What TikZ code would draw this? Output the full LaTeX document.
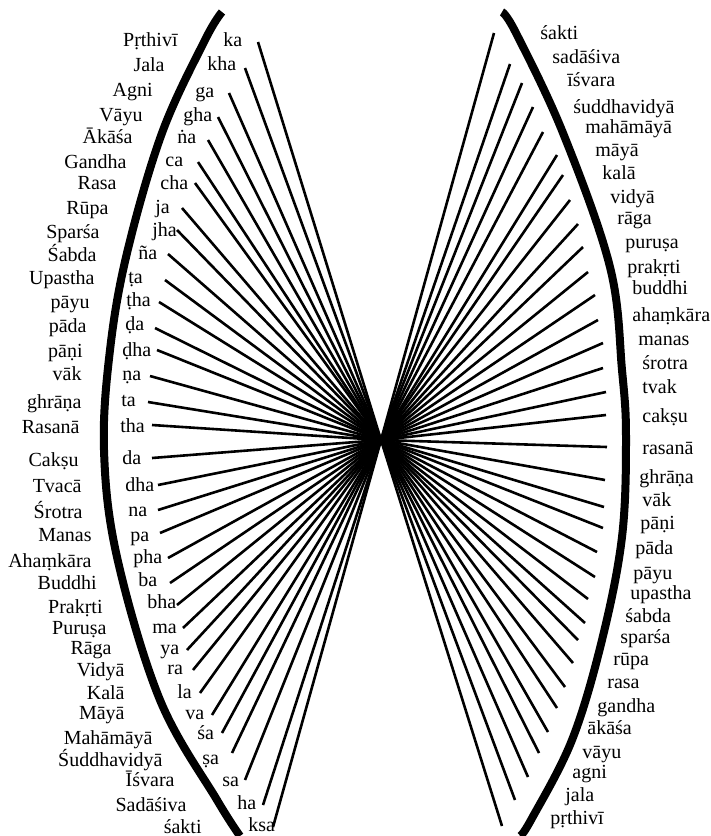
\documentclass[tikz,border=0pt]{standalone}
\usepackage{fontspec}
\setmainfont{Liberation Serif}
\usepackage{tikz}
\usetikzlibrary{calc}

\begin{document}
\begin{tikzpicture}[x=0.5pt, y=-0.5pt,
    tattva/.style={font=\fontsize{10}{12}\selectfont, inner sep=0pt},
    varna/.style={font=\fontsize{10}{12}\selectfont, inner sep=0pt, anchor=base west},
    ray/.style={line width=1.3pt},
    bow/.style={line width=4pt}]
  \useasboundingbox (0,0) rectangle (711,836);
  \coordinate (c) at (381,440);

  % the two bows
  \draw[bow] plot[smooth, tension=0.6] coordinates {(222,12) (205,40) (162,133) (127,253)
    (110,350) (104,450) (117,557) (160,700) (217,800) (240,836)};
  \draw[bow] plot[smooth, tension=0.6] coordinates {(502,12) (516,33) (563,133) (610,267)
    (622,370) (626,437) (622,537) (602,640) (572,740) (531,820) (520,836)};

  % left side: tattvas, letters and rays into the centre
  \foreach \t/\x/\y [count=\i] in {Pṛthivī/178/40, Jala/165/65, Agni/153/90, Vāyu/143/115,
      Ākāśa/133/137, Gandha/127/162, Rasa/117/183, Rūpa/109/208, Sparśa/100/232,
      Śabda/97/255, Upastha/95/278, pāyu/90/302, pāda/87/326, pāṇi/83/351, vāk/82/374,
      ghrāṇa/82/402, Rasanā/80/427, Cakṣu/79/460, Tvacā/82/486, Śrotra/83/512,
      Manas/92/535, Ahaṃkāra/92/561, Buddhi/97/583, Prakṛti/103/607, Puruṣa/107/628,
      Rāga/112/648, Vidyā/125/670, Kalā/125/693, Māyā/125/713, Mahāmāyā/153/738,
      Śuddhavidyā/163/760, Īśvara/175/780, Sadāśiva/187/805, śakti/202/827}
    \node[tattva, anchor=base east] (l\i) at (\x,\y+6) {\t};

  \foreach \v/\x/\y/\sx/\sy [count=\i] in {ka/223/40/258/42, kha/207/64/245/68,
      ga/195/91/229/93, gha/183/115/218/117, ṅa/177/137/208/140, ca/165/160/198/162,
      cha/160/183/195/183, ja/155/207/182/208, jha/152/230/177/230, ña/138/253/168/254,
      ṭa/128/277/165/280, ṭha/126/300/159/302, ḍa/125/324/155/328, ḍha/122/350/157/350,
      ṇa/122/374/150/376, ta/121/400/148/402, tha/120/426/152/425, da/122/458/152/458,
      dha/125/485/158/485, na/128/510/158/510, pa/130/535/160/533, pha/133/557/168/558,
      ba/138/580/170/583, bha/147/602/177/605, ma/152/627/183/628, ya/160/648/187/650,
      ra/167/668/193/670, la/177/692/200/693, va/185/713/212/715, śa/197/733/222/733,
      ṣa/202/758/232/753, sa/222/780/245/780, ha/237/803/263/805, ksa/248/825/273/827}
  {
    \node[varna] (k\i) at (\x,\y+6) {\v};
    \coordinate (s\i) at (\sx,\sy);
    \draw[ray] (s\i) -- (c);
  }

  % right side: rays out of the centre and tattvas
  \foreach \x/\y [count=\i] in {494/33, 510/64, 522/83, 533/107, 543/132, 557/155,
      563/175, 570/200, 578/224, 583/247, 588/272, 595/295, 598/320, 603/343, 603/368,
      606/392, 606/415, 607/447, 605/480, 604/507, 603/528, 597/552, 595/577, 588/599,
      585/623, 578/640, 573/663, 565/687, 557/708, 548/732, 539/753, 528/777, 515/800,
      502/826}
  {
    \coordinate (r\i) at (\x,\y);
    \draw[ray] (c) -- (r\i);
  }

  \foreach \t/\x/\y [count=\i] in {śakti/540/33, sadāśiva/552/57, īśvara/567/80,
      śuddhavidyā/573/107, mahāmāyā/585/127, māyā/595/150, kalā/602/173, vidyā/610/197,
      rāga/617/218, puruṣa/625/242, prakṛti/627/267, buddhi/632/288, ahaṃkāra/632/315,
      manas/638/339, śrotra/642/363, tvak/642/387, cakṣu/642/416, rasanā/642/448,
      ghrāṇa/639/477, vāk/642/500, pāṇi/640/523, pāda/635/548, pāyu/633/573,
      upastha/630/593, śabda/625/616, sparśa/620/637, rūpa/613/659, rasa/607/682,
      gandha/597/706, ākāśa/587/728, vāyu/582/752, agni/572/772, jala/565/795,
      pṛthivī/550/818}
    \node[tattva, anchor=base west] (t\i) at (\x,\y+6) {\t};
\end{tikzpicture}
\end{document}
